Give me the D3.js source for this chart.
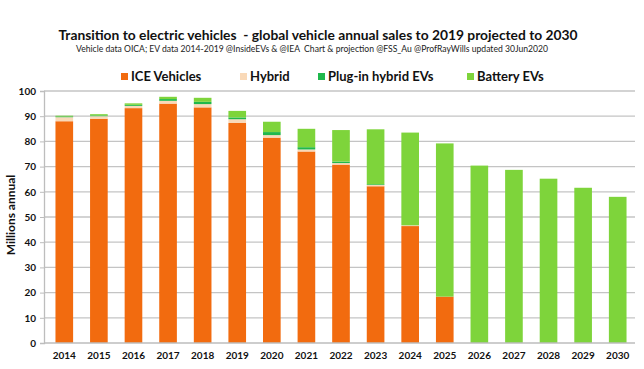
<!DOCTYPE html>
<html><head><meta charset="utf-8">
<script src="https://cdn.jsdelivr.net/npm/d3@7"></script>
<style>body{margin:0;background:#fff}svg{display:block}text{font-family:Lato,"Open Sans",sans-serif;white-space:pre}</style>
</head><body>
<script>
const years = ["2014","2015","2016","2017","2018","2019","2020","2021","2022","2023","2024","2025","2026","2027","2028","2029","2030"];
const ice    = [88.0, 89.0, 93.2, 95.0, 93.5, 87.3, 81.5, 76.0, 70.8, 62.2, 46.4, 18.4, 0, 0, 0, 0, 0];
const hybrid = [1.6, 1.0, 0.9, 1.1, 1.3, 1.5, 1.0, 0.8, 0.6, 0.5, 0.3, 0, 0, 0, 0, 0, 0];
const phev   = [0.3, 0.3, 0.4, 0.7, 0.9, 0.7, 1.2, 0.9, 0.6, 0.3, 0, 0, 0, 0, 0, 0, 0];
const bev    = [0.3, 0.5, 0.6, 0.9, 1.6, 2.6, 4.1, 7.3, 12.5, 21.8, 36.8, 60.8, 70.4, 68.7, 65.2, 61.6, 58.0];
const seriesNames = ["ICE Vehicles","Hybrid","Plug-in hybrid EVs","Battery EVs"];
const colors = ["#f26b0f","#f9d9b8","#1fb84c","#7ed43b"];
const yTicks = [0,10,20,30,40,50,60,70,80,90,100];

const W=644,H=369;
const svg=d3.select("body").append("svg").attr("width",W).attr("height",H);

const rows = years.map((y,i)=>({year:y, s0:ice[i], s1:hybrid[i], s2:phev[i], s3:bev[i]}));
const stack = d3.stack().keys(["s0","s1","s2","s3"])(rows);

const x = d3.scaleBand().domain(years).range([47,635]).paddingInner(0.49).paddingOuter(0.245);
const y = d3.scaleLinear().domain([0,100]).range([343,91]);

svg.append("g").selectAll("line").data(yTicks.slice(1)).join("line")
  .attr("x1",44).attr("x2",635).attr("y1",d=>y(d)).attr("y2",d=>y(d))
  .attr("stroke","#c4c4c4").attr("stroke-width",1.3);

const ya = svg.append("g").attr("transform","translate(44,0)")
  .call(d3.axisLeft(y).tickValues(yTicks).tickSize(4).tickPadding(4));
ya.select(".domain").attr("stroke","#bdbdbd").attr("stroke-width",1.3);
ya.selectAll(".tick line").attr("stroke","#bdbdbd");
ya.selectAll("text").attr("font-size",10).attr("font-weight","bold").attr("fill","#111").style("font-family","Lato,sans-serif");

svg.append("g").selectAll("g").data(stack).join("g").attr("fill",(d,i)=>colors[i])
  .selectAll("rect").data(d=>d).join("rect")
  .attr("x",d=>x(d.data.year)).attr("width",x.bandwidth())
  .attr("y",d=>y(d[1])).attr("height",d=>Math.max(0,y(d[0])-y(d[1])));

svg.append("line").attr("x1",44).attr("x2",635).attr("y1",y(0)).attr("y2",y(0)).attr("stroke","#bdbdbd").attr("stroke-width",1.3);

const xa = svg.append("g").attr("transform",`translate(0,${y(0)})`).call(d3.axisBottom(x).tickSize(0).tickPadding(9));
xa.select(".domain").remove();
xa.selectAll("text").attr("font-size",10).attr("font-weight","bold").attr("fill","#111").style("font-family","Lato,sans-serif");

svg.append("text").attr("x",318).attr("y",40).attr("text-anchor","middle").attr("font-size",13.8).attr("font-weight","bold").attr("fill","#111")
  .text("Transition to electric vehicles  - global vehicle annual sales to 2019 projected to 2030");
svg.append("text").attr("x",312).attr("y",52).attr("text-anchor","middle").attr("font-size",8.6).attr("fill","#222")
  .text("Vehicle data OICA; EV data 2014-2019 @InsideEVs & @IEA  Chart & projection @FSS_Au @ProfRayWills updated 30Jun2020");

svg.append("text").attr("transform","translate(15,215) rotate(-90)").attr("text-anchor","middle").attr("font-size",12).attr("font-weight","bold").attr("fill","#111").text("Millions annual");

const legX=[121,240,318,467];
const lg = svg.append("g").selectAll("g").data(seriesNames).join("g").attr("transform",(d,i)=>`translate(${legX[i]},78)`);
lg.append("rect").attr("x",0).attr("y",-5).attr("width",7).attr("height",7).attr("fill",(d,i)=>colors[i]);
lg.append("text").attr("x",10).attr("y",3).attr("font-size",13).attr("font-weight","bold").attr("fill","#111").text(d=>d);
</script>
</body></html>
